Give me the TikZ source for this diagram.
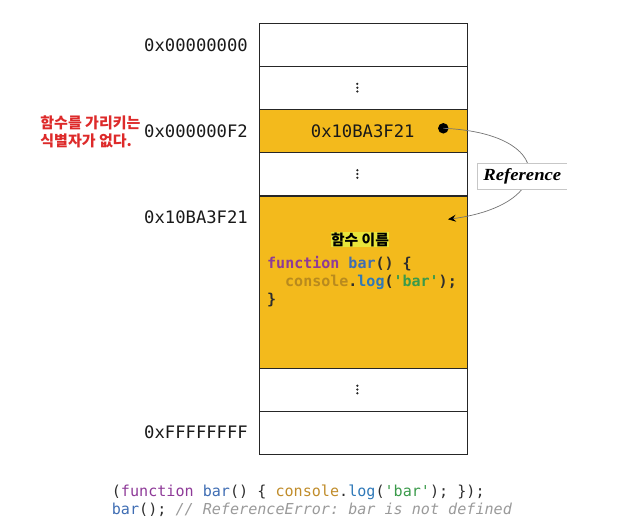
\documentclass[tikz,border=0pt]{standalone}
\usepackage{fontspec}
\setmonofont{DejaVu Sans Mono}
\newfontfamily\kor{Noto Sans CJK KR}
\newfontfamily\reffont{Liberation Serif}[FakeStretch=1.1]
\usetikzlibrary{arrows.meta}
\definecolor{memyellow}{HTML}{F3BA1C}
\definecolor{hilite}{HTML}{E8E43A}
\definecolor{redtxt}{HTML}{DD2A2A}
\definecolor{cpurple}{HTML}{8E3A98}
\definecolor{cblue}{HTML}{3F6DB3}
\definecolor{cblue2}{HTML}{2E78B8}
\definecolor{cgold}{HTML}{B88A1E}
\definecolor{cgold2}{HTML}{C08C2A}
\definecolor{cgreen}{HTML}{3A9A4A}
\definecolor{cdark}{HTML}{2E2E2E}
\definecolor{cgray}{HTML}{9A9A9A}
\newcommand\ckw[1]{\textcolor{cpurple}{#1}}
\newcommand\cfn[1]{\textcolor{cblue}{#1}}
\newcommand\clog[1]{\textcolor{cblue2}{#1}}
\newcommand\cstr[1]{\textcolor{cgreen}{#1}}
\newcommand\sq{\textquotesingle}
\begin{document}
\begin{tikzpicture}[x=1pt,y=-1pt,
  cell/.style={draw=black!85, line width=1.1pt, minimum width=208pt, inner sep=0pt, anchor=north west},
  addr/.style={anchor=base east, inner sep=0pt, font=\ttfamily\fontsize{17.2}{20}\selectfont, text=black!90},
  vdotc/.style={circle, fill=black!85, inner sep=0pt, minimum size=2.5pt},
  codebox/.style={anchor=base west, inner sep=0pt, font=\ttfamily\bfseries\fontsize{15}{18}\selectfont, text=cdark},
  codebot/.style={anchor=base west, inner sep=0pt, font=\ttfamily\fontsize{15.1}{18}\selectfont, text=cdark},
  redlabel/.style={anchor=west, inner sep=0pt, font=\kor\bfseries\fontsize{15}{17}\selectfont, text=redtxt},
  refline/.style={draw=black!55, line width=0.7pt}
]
\useasboundingbox (0,0) rectangle (626,526);

% memory cells
\node[cell, minimum height=42.7pt] (c1) at (258.7,23.3) {};
\node[cell, minimum height=43.3pt] (c2) at (258.7,66) {};
\node[cell, minimum height=43pt, fill=memyellow] (c3) at (258.7,109.3) {};
\node[cell, minimum height=43.2pt] (c4) at (258.7,152.3) {};
\node[cell, minimum height=172.5pt, fill=memyellow] (c5) at (258.7,195.5) {};
\node[cell, minimum height=43pt] (c6) at (258.7,368) {};
\node[cell, minimum height=43pt] (c7) at (258.7,411) {};

% ellipses (vertical dots)
\foreach \n/\yy in {d1/87.7, d2/174, d3/389.5} {
  \node[vdotc] (\n a) at (357.3,\yy-3.8) {};
  \node[vdotc] (\n b) at (357.3,\yy) {};
  \node[vdotc] (\n c) at (357.3,\yy+3.8) {};
}

% addresses
\node[addr] (a1) at (248,51.7) {0x00000000};
\node[addr] (a2) at (248,137.7) {0x000000F2};
\node[addr] (a3) at (248,223.3) {0x10BA3F21};
\node[addr] (a4) at (248,438.3) {0xFFFFFFFF};
\node[addr, anchor=base] (v3) at (362.7,137.3) {0x10BA3F21};

% red label
\node[redlabel] (r1) at (40.2,122.8) {함수를 가리키는};
\node[redlabel] (r2) at (40.2,140.5) {식별자가 없다.};

% function name label
\node[fill=hilite, inner xsep=0.5pt, inner ysep=0pt, minimum height=14.5pt,
      font=\kor\bfseries\fontsize{14.8}{16}\selectfont] (fname) at (360,239.7) {함수 이름};

% code in box
\node[codebox] (l1) at (267,268.3) {\ckw{function} \cfn{bar}() \{};
\node[codebox] (l2) at (285,286.7) {\textcolor{cgold}{console}.\clog{log}(\cstr{\sq bar\sq});};
\node[codebox] (l3) at (267,304.9) {\}};

% reference arrow
\node[circle, fill=black, inner sep=0pt, minimum size=10.5pt] (dot) at (443.3,128.3) {};
\coordinate (tip) at (448,219.3);
\draw[refline, -{Stealth[length=8pt,width=7pt,inset=3pt,color=black]}] (dot.center) .. controls (556,133) and (556,205) .. (tip);
\node[fill=white, inner sep=0pt, minimum width=88.7pt, minimum height=26pt,
      font=\reffont\bfseries\itshape\fontsize{17}{20}\selectfont] (reflabel) at (522.3,176.3) {Reference};
\draw[black!22, line width=0.6pt] (reflabel.north east) -- (reflabel.north west) -- (reflabel.south west) -- (reflabel.south east);

% bottom code
\node[codebot] (b1) at (111.7,496.7) {(\ckw{function} \cfn{bar}() \{ \textcolor{cgold2}{console}.\clog{log}(\cstr{\sq bar\sq}); \});};
\node[codebot] (b2) at (111.7,514.3) {\cfn{bar}(); \textcolor{cgray}{\itshape // ReferenceError: bar is not defined}};
\end{tikzpicture}
\end{document}
